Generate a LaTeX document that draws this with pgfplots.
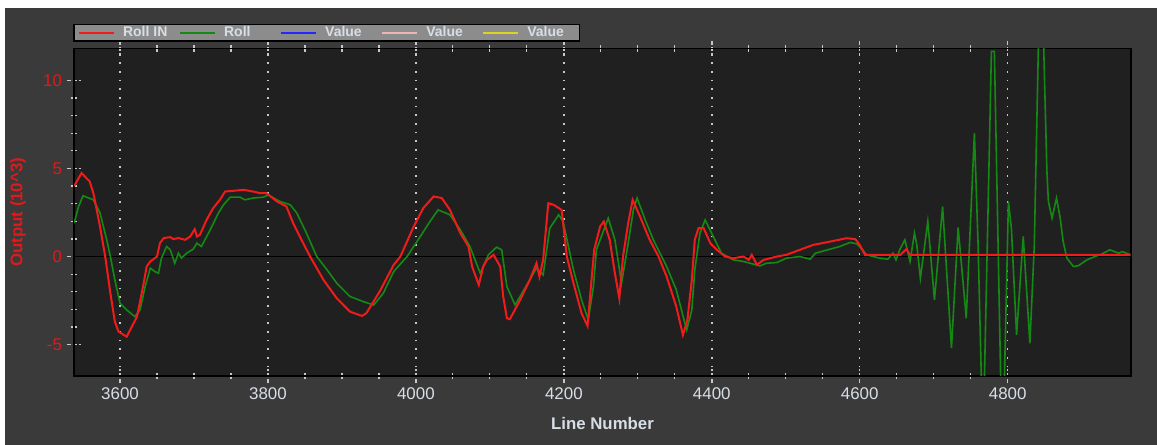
\documentclass[border=0pt]{standalone}
\usepackage{fontspec}
\setmainfont{Liberation Sans}
\usepackage{pgfplots}
\pgfplotsset{compat=1.18}
\definecolor{outerbg}{HTML}{3A3A3A}
\definecolor{plotbg}{HTML}{202020}
\definecolor{rollin}{HTML}{F21B1B}
\definecolor{roll}{HTML}{148A14}
\definecolor{ticklab}{HTML}{D8DEE6}
\definecolor{legfill}{HTML}{8C8C8C}
\definecolor{tickc}{HTML}{C8C8C8}
\definecolor{ylab}{HTML}{E01A1A}
\begin{document}
\begin{tikzpicture}[x=1pt,y=1pt]
\fill[white] (0,0) rectangle (867.75,333.75);
\fill[outerbg] (3.75,0) rectangle (867.75,327.75);
\begin{axis}[
  at={(55.5pt,51.75pt)}, anchor=south west,
  scale only axis, width=792.75pt, height=245.5pt,
  xmin=3537.8, xmax=4966.7, ymin=-6.78, ymax=11.8,
  axis background/.style={fill=plotbg},
  axis line style={black, line width=1.1pt},
  xtick={3600,3800,...,4800}, minor x tick num=3,
  ytick={-5,0,5,10}, minor y tick num=4,
  xtick pos=both, ytick pos=left,
  tick align=center,
  major tick length=11pt, minor tick length=5.25pt,
  major tick style={tickc, line width=1.1pt, dash pattern=on 3pt off 1.5pt},
  minor tick style={tickc, line width=0.9pt, dash pattern=on 2pt off 1pt},
  xmajorgrids,
  major x grid style={tickc, line width=1.1pt, dash pattern=on 1.3pt off 5.2pt},
  ticklabel style={font=\fontsize{12.7}{14}\selectfont},
  xticklabel style={ticklab},
  yticklabel style={ylab},
  /pgf/number format/assume math mode=true,
  /pgf/number format/1000 sep={},
  xlabel={Line Number}, ylabel={Output (10\textasciicircum 3)},
  label style={font=\bfseries\fontsize{12.6}{14}\selectfont},
  xlabel style={ticklab, at={(axis description cs:0.5,-0.1436)}, anchor=center},
  ylabel style={ylab, at={(axis description cs:-0.053,0.5)}, anchor=center},
  legend style={at={(axis description cs:0,1)}, anchor=north west, xshift=-0.5pt, yshift=18.75pt,
    fill=legfill, draw=black, line width=1.1pt, inner xsep=3pt, inner ysep=0pt,
    font=\bfseries\fontsize{10.5}{12}\selectfont, text=ticklab,
    nodes={inner ysep=1.25pt, inner xsep=0pt, text height=8pt, text depth=2pt},
    /tikz/every odd column/.append style={column sep=6pt},
    /tikz/every even column/.append style={column sep=5.9pt}},
  legend columns=5,
  legend cell align=left,
  legend image code/.code={\draw[#1, line width=1.5pt] (0pt,0pt) -- (26.25pt,0pt);},
]
\addplot[black, line width=1.1pt, forget plot] coordinates {(3537.8,0) (4966.7,0)};
% Roll (green)
\addplot[roll, line width=1.2pt, forget plot] coordinates {
(3538,1.9) (3544,2.84) (3550,3.45) (3564,3.22) (3573,2.47) (3582,0.95) (3587,0) (3593,-1.32)
(3600,-2.65) (3609,-3.03) (3620,-3.41) (3627,-3.03) (3634,-1.7) (3641,-0.66) (3647,-0.85) (3652,-0.95)
(3656,-0.09) (3663,0.57) (3668,0.38) (3674,-0.38) (3679,0.19) (3683,-0.09) (3690,0.19) (3699,0.42)
(3704,0.76) (3710,0.57) (3722,1.52) (3733,2.47) (3740,2.94) (3749,3.37) (3762,3.37) (3769,3.22)
(3780,3.32) (3794,3.37) (3800,3.5) (3816,3.13) (3830,2.94) (3839,2.47) (3852,1.33) (3866,0)
(3880,-0.76) (3893,-1.51) (3911,-2.27) (3929,-2.56) (3943,-2.75) (3956,-2.08) (3970,-0.85) (3988,0)
(4006,1.14) (4019,1.99) (4030,2.65) (4046,2.37) (4060,1.52) (4073,0.57) (4087,-0.95) (4098,0.1)
(4109,0.53) (4116,0.38) (4123,-1.7) (4134,-2.75) (4150,-1.61) (4163,-0.66) (4172,-1.04) (4181,1.61)
(4193,2.37) (4199,1.99) (4213,-0.76) (4224,-2.46) (4233,-3.6) (4240,-1.7) (4244,0.38) (4260,2.18)
(4269,0.95) (4278,-1.51) (4287,0.76) (4294,2.65) (4299,3.32) (4310,2.08) (4321,0.95) (4339,-0.57)
(4352,-1.89) (4366,-4.17) (4373,-3.03) (4377,-0.76) (4384,1.33) (4391,2.08) (4402,1.14) (4413,0.19)
(4429,-0.19) (4443,-0.28) (4465,-0.53) (4474,-0.38) (4488,-0.34) (4501,-0.09) (4519,0) (4533,-0.15)
(4540,0.19) (4560,0.42) (4573,0.57) (4587,0.8) (4596,0.72) (4604,0.38) (4609,0.1) (4627,-0.09)
(4638,-0.15) (4645,0.19) (4649,-0.19) (4654,0.38) (4661,0.95) (4668,-0.28) (4674,1.33) (4677,0.7)
(4682,-1.23) (4692,1.99) (4701,-2.46) (4712,2.84) (4724,-5.2) (4733,1.65) (4744,-3.5) (4755,7.01)
(4760,0.66) (4765,-8) (4768,-8) (4778,11.65) (4782,11.65) (4791,-8) (4795,-8) (4801,3.13)
(4805,1.6) (4812,-4.45) (4821,1.14) (4830,-4.92) (4836,0.66) (4842,13) (4848,13) (4853,4.83)
(4855,3.13) (4860,2.18) (4866,3.32) (4871,2.18) (4875,0.85) (4880,-0.09) (4889,-0.57) (4896,-0.51)
(4907,-0.19) (4918,0) (4927,0.14) (4938,0.38) (4950,0.19) (4955,0.28) (4966,0.1)
};
% Roll IN (red)
\addplot[rollin, line width=1.5pt, forget plot] coordinates {
(3538,4.0) (3548,4.74) (3559,4.26) (3564,3.6) (3573,1.7) (3580,0) (3587,-2.08) (3593,-3.69)
(3598,-4.26) (3609,-4.55) (3623,-3.41) (3632,-1.51) (3636,-0.57) (3641,-0.28) (3650,0) (3654,0.76)
(3659,1.05) (3668,1.1) (3672,0.99) (3679,1.05) (3688,0.95) (3695,1.14) (3701,1.55) (3704,1.14)
(3708,1.23) (3717,2.08) (3726,2.75) (3735,3.22) (3742,3.69) (3758,3.75) (3767,3.79) (3780,3.69)
(3789,3.6) (3798,3.6) (3812,3.13) (3825,2.84) (3834,1.9) (3843,1.14) (3857,0) (3875,-1.32)
(3893,-2.37) (3911,-3.13) (3927,-3.37) (3933,-3.22) (3951,-1.99) (3970,-0.47) (3979,0) (3997,1.7)
(4010,2.75) (4024,3.41) (4035,3.32) (4046,2.65) (4060,1.33) (4071,0.57) (4076,-0.57) (4085,-1.61)
(4091,-0.57) (4096,-0.19) (4105,0.1) (4114,-0.57) (4118,-2.27) (4123,-3.5) (4127,-3.56) (4141,-2.46)
(4154,-1.32) (4163,-0.38) (4167,-1.14) (4172,-0.19) (4179,3.03) (4186,2.94) (4197,2.65) (4204,0)
(4213,-1.51) (4224,-3.22) (4232,-3.94) (4237,-1.51) (4241,0.38) (4249,1.7) (4254,1.99) (4262,0.95)
(4269,-0.95) (4275,-2.37) (4280,0) (4287,1.9) (4293,3.22) (4303,2.27) (4316,0.95) (4328,0)
(4339,-1.14) (4352,-2.84) (4361,-4.45) (4367,-3.6) (4373,-1.32) (4377,0.95) (4382,1.61) (4389,1.61)
(4398,0.76) (4407,0.38) (4418,0) (4429,-0.09) (4443,0) (4450,-0.19) (4454,0.1) (4461,-0.47)
(4470,-0.19) (4488,0) (4501,0.1) (4519,0.38) (4537,0.66) (4560,0.85) (4582,1.04) (4594,0.99)
(4600,0.66) (4607,0.1) (4655,0.1) (4663,0.42) (4668,0.1) (4966,0.1)
};
\addlegendimage{rollin}
\addlegendentry{\makebox[36.15pt][l]{Roll IN}}
\addlegendimage{roll}
\addlegendentry{\makebox[36.15pt][l]{Roll}}
\addlegendimage{blue!85!white}
\addlegendentry{\makebox[36.15pt][l]{Value}}
\addlegendimage{pink!85!gray}
\addlegendentry{\makebox[36.15pt][l]{Value}}
\addlegendimage{yellow!85!black}
\addlegendentry{\makebox[36.15pt][l]{Value}}
\end{axis}
\pgfresetboundingbox
\path (0,0) rectangle (867.75,333.75);
\end{tikzpicture}
\end{document}
